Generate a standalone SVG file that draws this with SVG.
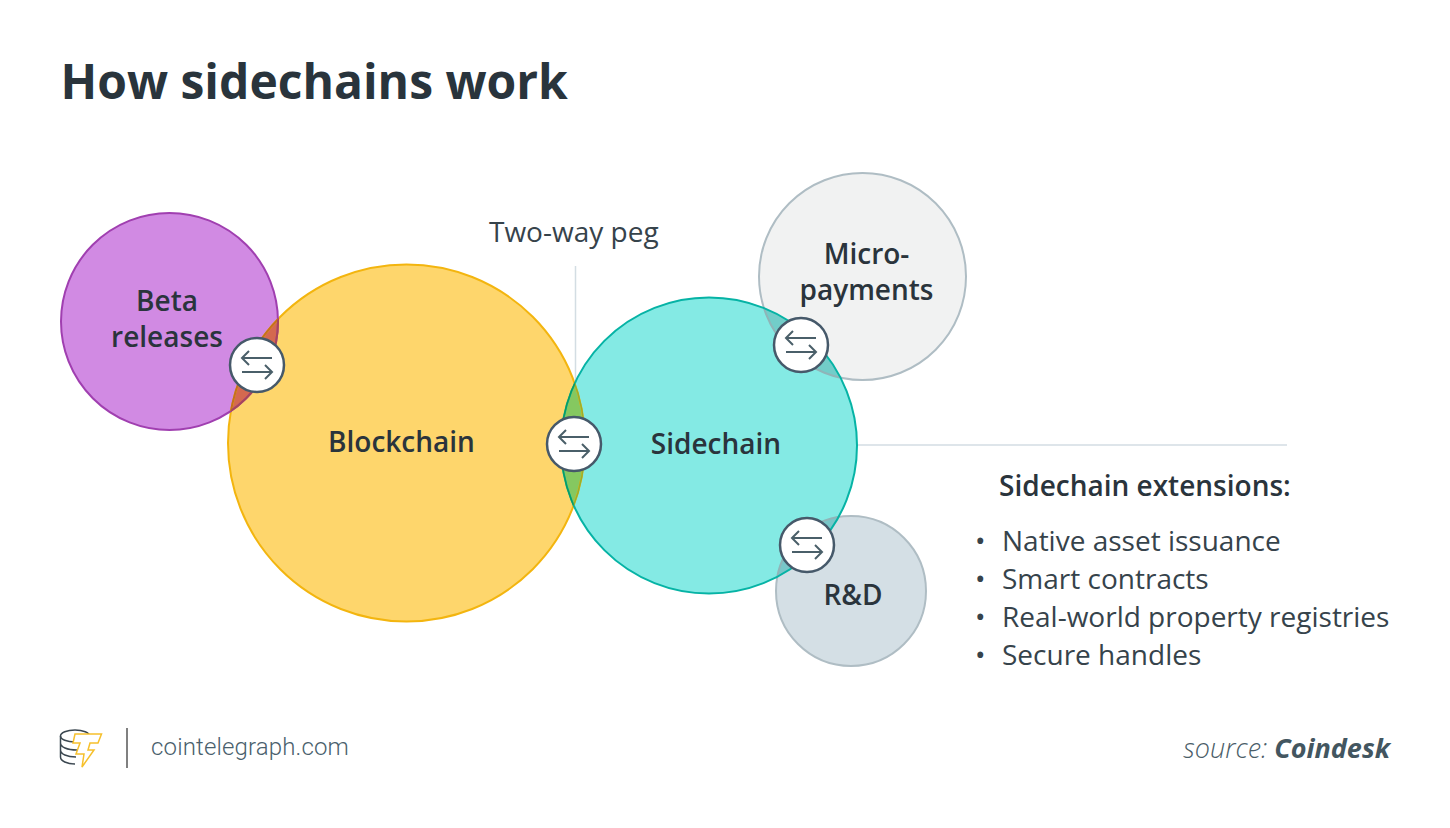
<svg xmlns="http://www.w3.org/2000/svg" width="1450" height="828" viewBox="0 0 1450 828">
<style>
text{font-family:"Open Sans","Liberation Sans",sans-serif;fill:#2a343c}
.lab{font-size:28px;font-weight:600;text-anchor:middle}
.li{font-size:28px;fill:#36434b}
.sw{fill:#fff;stroke:#46596a;stroke-width:2.5}
.ar{fill:none;stroke:#4a5f69;stroke-width:2}
.ln{stroke:#d3dde3;stroke-width:1.5;fill:none}
</style>
<defs>
<clipPath id="cb"><circle cx="406.5" cy="443" r="178.5"/></clipPath>
<clipPath id="cs"><circle cx="709" cy="445.5" r="148"/></clipPath>
<clipPath id="cp"><circle cx="169.5" cy="321.5" r="108.5"/></clipPath>
<g id="sw"><circle class="sw" r="27"/><path class="ar" d="M15 -7H-15M-8 -14L-15 -7L-8 0M-15 7H15M8 0L15 7L8 14"/></g>
</defs>
<rect width="1450" height="828" fill="#fff"/>
<text id="title" x="60.500" y="99" style="font-size:48px;font-weight:700;fill:#29343c">How sidechains work</text>
<g id="connectors">
<path class="ln" d="M575.500 266V385M857 445H1287"/>
</g>
<g id="node-micro"><circle cx="862.500" cy="276.500" r="103.500" fill="#f1f2f2" stroke="#afbdc4" stroke-width="2"/>
<text class="lab" x="866.500" y="263.500">Micro-</text><text class="lab" x="866.500" y="299.500">payments</text></g>
<g id="node-rd"><circle cx="851" cy="591" r="75" fill="#d4dfe5" stroke="#afbdc4" stroke-width="2"/>
<text class="lab" x="853" y="604.500">R&amp;D</text></g>
<g id="node-blockchain"><circle cx="406.500" cy="443" r="178.500" fill="#fed66c"/></g>
<g id="node-beta"><circle cx="169.500" cy="321.500" r="108.500" fill="#d18ae3"/>
<circle cx="169.500" cy="321.500" r="108.500" fill="#d4694f" clip-path="url(#cb)"/>
<text class="lab" x="167" y="310.500">Beta</text><text class="lab" x="167" y="346.500">releases</text></g>
<g id="node-sidechain"><circle cx="709" cy="445.500" r="148" fill="#84eae4"/>
<circle cx="406.500" cy="443" r="178.500" fill="#85c860" clip-path="url(#cs)"/>
<circle cx="862.500" cy="276.500" r="103.500" fill="#72cdc9" clip-path="url(#cs)"/>
<circle cx="851" cy="591" r="75" fill="#78c6c8" clip-path="url(#cs)"/>
<circle cx="862.500" cy="276.500" r="103.500" fill="none" stroke="#8fb5b8" stroke-width="2" clip-path="url(#cs)"/>
<circle cx="851" cy="591" r="75" fill="none" stroke="#8fb5b8" stroke-width="2" clip-path="url(#cs)"/>
<circle cx="406.500" cy="443" r="178.500" fill="none" stroke="#f3b50f" stroke-width="2"/>
<circle cx="169.500" cy="321.500" r="108.500" fill="none" stroke="#a03fb0" stroke-width="2"/>
<circle cx="709" cy="445.500" r="148" fill="none" stroke="#06b3a5" stroke-width="2"/>
<circle cx="406.500" cy="443" r="178.500" fill="none" stroke="#c4701e" stroke-width="2" clip-path="url(#cp)"/>
<circle cx="169.500" cy="321.500" r="108.500" fill="none" stroke="#a8465a" stroke-width="2" clip-path="url(#cb)"/>
<circle cx="406.500" cy="443" r="178.500" fill="none" stroke="#94b030" stroke-width="1.500" clip-path="url(#cs)"/>
<circle cx="709" cy="445.500" r="148" fill="none" stroke="#0a9c60" stroke-width="1.500" clip-path="url(#cb)"/>
<text class="lab" x="716" y="454">Sidechain</text></g>
<text class="lab" x="401.500" y="452">Blockchain</text>
<text x="489" y="242" style="font-size:28px;fill:#36434b">Two-way peg</text>
<use id="peg-beta" href="#sw" x="257" y="365"/>
<use id="peg-main" href="#sw" x="574" y="444"/>
<use id="peg-micro" href="#sw" x="801" y="345"/>
<use id="peg-rd" href="#sw" x="807" y="545"/>
<g id="extensions">
<text x="999" y="495.500" style="font-size:28px;font-weight:600">Sidechain extensions:</text>
<text class="li" x="975" y="551">•</text><text class="li" x="1002" y="551">Native asset issuance</text>
<text class="li" x="975" y="589">•</text><text class="li" x="1002" y="589">Smart contracts</text>
<text class="li" x="975" y="627">•</text><text class="li" x="1002" y="627">Real-world property registries</text>
<text class="li" x="975" y="665">•</text><text class="li" x="1002" y="665">Secure handles</text>
</g>
<g id="logo" fill="none">
<g stroke="#3b4750" stroke-width="1.500"><ellipse cx="75" cy="736" rx="14.500" ry="6"/><path d="M60.500 736V757C60.500 761 67 764 75 764M60.500 743C60.500 747 67 750 77 750M60.500 750C60.500 754 67 757 76 757"/></g>
<path d="M75 734H101.500L98 743H90L88 750H94L82 767L84 754H76L80 743H73Z" fill="#fff" stroke="#f6c02c" stroke-width="1.500"/>
<path d="M127 728V768" stroke="#808080" stroke-width="2"/>
</g>
<text id="site" x="151" y="755" style="font-family:Roboto,'Liberation Sans',sans-serif;font-size:24px;font-weight:300;letter-spacing:.15px;fill:#4a5f6d">cointelegraph.com</text>
<text id="source" x="1390" y="758" text-anchor="end" style="font-size:27px;font-style:italic;font-weight:300;fill:#4a5d68">source: <tspan font-weight="700" fill="#435660">Coindesk</tspan></text>
</svg>
